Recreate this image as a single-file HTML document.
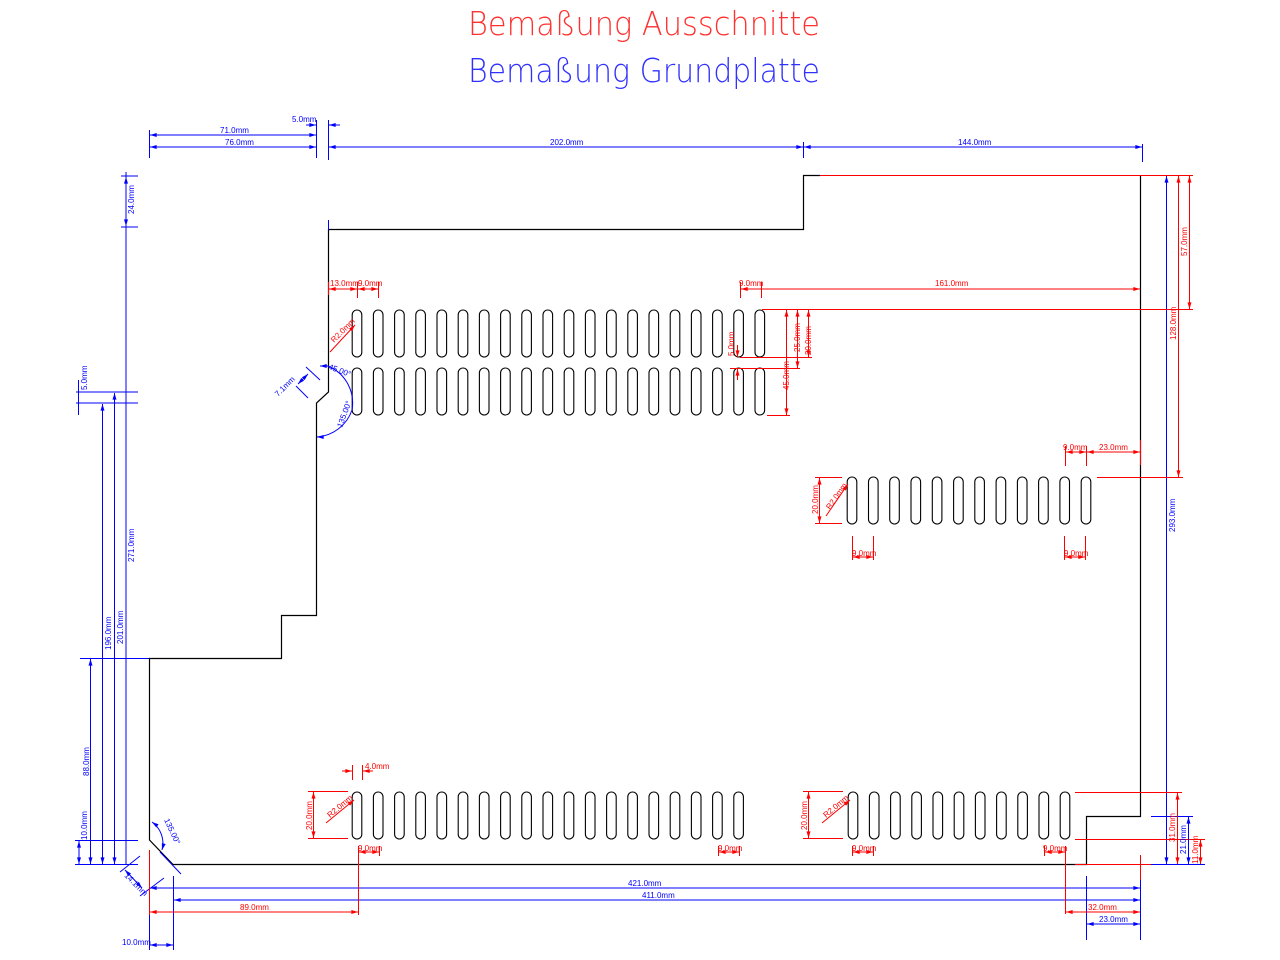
<!DOCTYPE html>
<html><head><meta charset="utf-8"><style>
html,body{margin:0;padding:0;background:#fff;}
svg{display:block;}
.t{font-family:"Liberation Sans Narrow","Liberation Sans",sans-serif;font-size:8px;}
.b{fill:#0000ff}.r{fill:#ff0000}
.lb{stroke:#0000ff;stroke-width:1;fill:none}
.lr{stroke:#ff0000;stroke-width:1;fill:none}
.ab{stroke:#0000ff;stroke-width:1;fill:none;marker-start:url(#mb);marker-end:url(#mb)}
.ar{stroke:#ff0000;stroke-width:1;fill:none;marker-start:url(#mr);marker-end:url(#mr)}
.s{fill:none;stroke:#000;stroke-width:1.1}
</style></head><body>
<svg width="1280" height="960" viewBox="0 0 1280 960" xmlns="http://www.w3.org/2000/svg">
<defs>
<marker id="mb" viewBox="0 0 10 6" refX="10" refY="3" markerWidth="7" markerHeight="4" orient="auto-start-reverse" markerUnits="userSpaceOnUse"><path d="M0,0L10,3L0,6z" fill="#0000ff"/></marker>
<marker id="mr" viewBox="0 0 10 6" refX="10" refY="3" markerWidth="7" markerHeight="4" orient="auto-start-reverse" markerUnits="userSpaceOnUse"><path d="M0,0L10,3L0,6z" fill="#ff0000"/></marker>
<rect id="sl" x="-4.8" y="0" width="9.6" height="47" rx="4.8" class="s"/>
</defs>

<!-- titles -->
<text x="468" y="35" textLength="352" lengthAdjust="spacingAndGlyphs" style="font-family:'DejaVu Sans','Liberation Sans',sans-serif;font-weight:200;font-size:33px;fill:#ff3030">Bemaßung Ausschnitte</text>
<text x="468" y="82" textLength="352" lengthAdjust="spacingAndGlyphs" style="font-family:'DejaVu Sans','Liberation Sans',sans-serif;font-weight:200;font-size:33px;fill:#3030ff">Bemaßung Grundplatte</text>

<!-- outline -->
<path d="M820,175.5 L803.5,175.5 L803.5,229.5 L328.5,229.5 L328.5,392 L316.5,403 L316.5,615.5 L281.5,615.5 L281.5,658.5 L149.5,658.5 L149.5,840 L173,864.5 L1086.5,864.5 L1086.5,816.5 L1140.5,816.5 L1140.5,175.5" fill="none" stroke="#000" stroke-width="1.2"/>
<line x1="820" y1="175.5" x2="1193" y2="175.5" class="lr"/>

<!-- slots upper rows -->
<g>
<use href="#sl" x="357" y="310"/><use href="#sl" x="378.2" y="310"/><use href="#sl" x="399.4" y="310"/><use href="#sl" x="420.6" y="310"/><use href="#sl" x="441.8" y="310"/><use href="#sl" x="463" y="310"/><use href="#sl" x="484.2" y="310"/><use href="#sl" x="505.4" y="310"/><use href="#sl" x="526.6" y="310"/><use href="#sl" x="547.8" y="310"/><use href="#sl" x="569" y="310"/><use href="#sl" x="590.2" y="310"/><use href="#sl" x="611.4" y="310"/><use href="#sl" x="632.6" y="310"/><use href="#sl" x="653.8" y="310"/><use href="#sl" x="675" y="310"/><use href="#sl" x="696.2" y="310"/><use href="#sl" x="717.4" y="310"/><use href="#sl" x="738.6" y="310"/><use href="#sl" x="759.8" y="310"/>
<use href="#sl" x="357" y="368"/><use href="#sl" x="378.2" y="368"/><use href="#sl" x="399.4" y="368"/><use href="#sl" x="420.6" y="368"/><use href="#sl" x="441.8" y="368"/><use href="#sl" x="463" y="368"/><use href="#sl" x="484.2" y="368"/><use href="#sl" x="505.4" y="368"/><use href="#sl" x="526.6" y="368"/><use href="#sl" x="547.8" y="368"/><use href="#sl" x="569" y="368"/><use href="#sl" x="590.2" y="368"/><use href="#sl" x="611.4" y="368"/><use href="#sl" x="632.6" y="368"/><use href="#sl" x="653.8" y="368"/><use href="#sl" x="675" y="368"/><use href="#sl" x="696.2" y="368"/><use href="#sl" x="717.4" y="368"/><use href="#sl" x="738.6" y="368"/><use href="#sl" x="759.8" y="368"/>
<!-- middle -->
<use href="#sl" x="852" y="477"/><use href="#sl" x="873.3" y="477"/><use href="#sl" x="894.5" y="477"/><use href="#sl" x="915.8" y="477"/><use href="#sl" x="937.1" y="477"/><use href="#sl" x="958.4" y="477"/><use href="#sl" x="979.6" y="477"/><use href="#sl" x="1000.9" y="477"/><use href="#sl" x="1022.2" y="477"/><use href="#sl" x="1043.4" y="477"/><use href="#sl" x="1064.7" y="477"/><use href="#sl" x="1086" y="477"/>
<!-- bottom left -->
<use href="#sl" x="357" y="792"/><use href="#sl" x="378.2" y="792"/><use href="#sl" x="399.4" y="792"/><use href="#sl" x="420.6" y="792"/><use href="#sl" x="441.8" y="792"/><use href="#sl" x="463" y="792"/><use href="#sl" x="484.2" y="792"/><use href="#sl" x="505.4" y="792"/><use href="#sl" x="526.6" y="792"/><use href="#sl" x="547.8" y="792"/><use href="#sl" x="569" y="792"/><use href="#sl" x="590.2" y="792"/><use href="#sl" x="611.4" y="792"/><use href="#sl" x="632.6" y="792"/><use href="#sl" x="653.8" y="792"/><use href="#sl" x="675" y="792"/><use href="#sl" x="696.2" y="792"/><use href="#sl" x="717.4" y="792"/><use href="#sl" x="738.6" y="792"/>
<!-- bottom right -->
<use href="#sl" x="853" y="792"/><use href="#sl" x="874.2" y="792"/><use href="#sl" x="895.4" y="792"/><use href="#sl" x="916.6" y="792"/><use href="#sl" x="937.8" y="792"/><use href="#sl" x="959" y="792"/><use href="#sl" x="980.2" y="792"/><use href="#sl" x="1001.4" y="792"/><use href="#sl" x="1022.6" y="792"/><use href="#sl" x="1043.8" y="792"/><use href="#sl" x="1065" y="792"/>
</g>

<!-- ===== TOP DIMENSIONS (blue) ===== -->
<line x1="149.5" y1="130" x2="149.5" y2="158" class="lb"/>
<line x1="316.5" y1="120" x2="316.5" y2="158" class="lb"/>
<line x1="328.5" y1="120" x2="328.5" y2="160" class="lb"/>
<line x1="803.5" y1="142" x2="803.5" y2="158" class="lb"/>
<line x1="1142.5" y1="144" x2="1142.5" y2="162" class="lb"/>
<line x1="328.5" y1="220" x2="328.5" y2="230" class="lb"/>
<line x1="150" y1="135" x2="316" y2="135" class="ab"/>
<text class="t b" x="220" y="133">71.0mm</text>
<line x1="150" y1="147" x2="316" y2="147" class="ab"/>
<text class="t b" x="225" y="145">76.0mm</text>
<line x1="306" y1="125" x2="316" y2="125" class="lb" style="marker-end:url(#mb)"/>
<line x1="340" y1="125" x2="329" y2="125" class="lb" style="marker-end:url(#mb)"/>
<text class="t b" x="292" y="122">5.0mm</text>
<line x1="329" y1="147" x2="803" y2="147" class="ab"/>
<text class="t b" x="550" y="145">202.0mm</text>
<line x1="804" y1="147" x2="1142" y2="147" class="ab"/>
<text class="t b" x="958" y="145">144.0mm</text>

<!-- ===== LEFT DIMENSIONS (blue) ===== -->
<line x1="121" y1="176" x2="138" y2="176" class="lb"/>
<line x1="121" y1="227" x2="138" y2="227" class="lb"/>
<line x1="126" y1="172" x2="126" y2="864" class="lb"/>
<line x1="126" y1="177" x2="126" y2="226" class="ab"/>
<text class="t b" transform="translate(134,214) rotate(-90)">24.0mm</text>
<text class="t b" transform="translate(134,562) rotate(-90)">271.0mm</text>
<line x1="76" y1="392" x2="138" y2="392" class="lb"/>
<line x1="76" y1="403" x2="138" y2="403" class="lb"/>
<line x1="78.5" y1="380" x2="78.5" y2="415" class="lb"/>
<text class="t b" transform="translate(87,390) rotate(-90)">5.0mm</text>
<line x1="114.5" y1="393" x2="114.5" y2="864" class="ab"/>
<text class="t b" transform="translate(123,644) rotate(-90)">201.0mm</text>
<line x1="102.5" y1="404" x2="102.5" y2="864" class="ab"/>
<text class="t b" transform="translate(111,650) rotate(-90)">196.0mm</text>
<line x1="80" y1="658.5" x2="149" y2="658.5" class="lb"/>
<line x1="90.5" y1="659" x2="90.5" y2="864" class="ab"/>
<text class="t b" transform="translate(89,776) rotate(-90)">88.0mm</text>
<line x1="75" y1="840.5" x2="138" y2="840.5" class="lb"/>
<line x1="75" y1="864.5" x2="138" y2="864.5" class="lb"/>
<line x1="79" y1="841" x2="79" y2="864" class="ab"/>
<text class="t b" transform="translate(87,840) rotate(-90)">10.0mm</text>
<!-- chamfer dims -->
<line x1="125" y1="870" x2="142" y2="888" class="ab"/>
<line x1="140" y1="856" x2="120" y2="872" class="lb"/>
<line x1="164" y1="878" x2="140" y2="896" class="lb"/>
<text class="t b" transform="translate(124,876) rotate(45)">14.1mm</text>
<path d="M152,822 A26,26 0 0 1 162,850" class="lb" style="marker-start:url(#mb);marker-end:url(#mb)"/>
<text class="t b" transform="translate(164,820) rotate(65)">135.00°</text>
<line x1="181" y1="874" x2="160" y2="852" class="lb"/>

<!-- ===== BOTTOM DIMENSIONS ===== -->
<line x1="149.5" y1="850" x2="149.5" y2="915" class="lr"/>
<line x1="149.5" y1="915" x2="149.5" y2="950" class="lb"/>
<line x1="173.5" y1="876" x2="173.5" y2="950" class="lb"/>
<line x1="150" y1="888" x2="1140" y2="888" class="ab"/>
<text class="t b" x="628" y="886">421.0mm</text>
<line x1="174" y1="900" x2="1140" y2="900" class="ab"/>
<text class="t b" x="642" y="898">411.0mm</text>
<line x1="358.5" y1="852" x2="358.5" y2="915" class="lr"/>
<line x1="150" y1="912" x2="358" y2="912" class="ar"/>
<text class="t r" x="240" y="910">89.0mm</text>
<line x1="150" y1="945" x2="173" y2="945" class="ab"/>
<text class="t b" x="122" y="945">10.0mm</text>
<line x1="1140.5" y1="855" x2="1140.5" y2="940" class="lb"/>
<line x1="1140.5" y1="855" x2="1140.5" y2="880" class="lr"/>
<line x1="1086.5" y1="876" x2="1086.5" y2="940" class="lb"/>
<line x1="1065.5" y1="850" x2="1065.5" y2="914" class="lr"/>
<line x1="1066" y1="912" x2="1140" y2="912" class="ar"/>
<text class="t r" x="1088" y="910">32.0mm</text>
<line x1="1087" y1="924" x2="1140" y2="924" class="ab"/>
<text class="t b" x="1099" y="922">23.0mm</text>

<!-- ===== RIGHT DIMENSIONS ===== -->
<line x1="1166.5" y1="176" x2="1166.5" y2="864" class="ab"/>
<text class="t b" transform="translate(1175,532) rotate(-90)">293.0mm</text>
<line x1="1178.5" y1="176" x2="1178.5" y2="477" class="ar"/>
<text class="t r" transform="translate(1176,340) rotate(-90)">128.0mm</text>
<line x1="762" y1="309.5" x2="1193" y2="309.5" class="lr"/>
<line x1="1189.5" y1="176" x2="1189.5" y2="309" class="ar"/>
<text class="t r" transform="translate(1187,256) rotate(-90)">57.0mm</text>
<line x1="1097" y1="477.5" x2="1183" y2="477.5" class="lr"/>
<line x1="1075" y1="792.5" x2="1182" y2="792.5" class="lr"/>
<line x1="1075" y1="839.5" x2="1205" y2="839.5" class="lr"/>
<line x1="1075" y1="864.5" x2="1205" y2="864.5" class="lr"/>
<line x1="1151" y1="864.5" x2="1205" y2="864.5" class="lb"/>
<line x1="1151" y1="816.5" x2="1193" y2="816.5" class="lb"/>
<line x1="1177.5" y1="793" x2="1177.5" y2="864" class="ar"/>
<text class="t r" transform="translate(1175,842) rotate(-90)">31.0mm</text>
<line x1="1188.5" y1="817" x2="1188.5" y2="864" class="ab"/>
<text class="t b" transform="translate(1186,854) rotate(-90)">21.0mm</text>
<line x1="1200.5" y1="840" x2="1200.5" y2="864" class="ar"/>
<text class="t r" transform="translate(1198,864) rotate(-90)">11.0mm</text>

<!-- ===== UPPER SLOT DIMS (red) ===== -->
<line x1="328.5" y1="282" x2="328.5" y2="295" class="lr"/>
<line x1="357.5" y1="282" x2="357.5" y2="298" class="lr"/>
<line x1="378.5" y1="282" x2="378.5" y2="298" class="lr"/>
<line x1="329" y1="289" x2="357" y2="289" class="ar"/>
<line x1="358" y1="289" x2="378" y2="289" class="ar"/>
<text class="t r" x="330" y="286">13.0mm</text>
<text class="t r" x="358" y="286">9.0mm</text>
<line x1="330" y1="352" x2="355" y2="325" class="lr" style="marker-end:url(#mr)"/>
<text class="t r" transform="translate(334,343) rotate(-45)">R2.0mm</text>
<line x1="740.5" y1="282" x2="740.5" y2="298" class="lr"/>
<line x1="761.5" y1="282" x2="761.5" y2="298" class="lr"/>
<line x1="741" y1="289" x2="1140" y2="289" class="ar"/>
<text class="t r" x="739" y="286">9.0mm</text>
<text class="t r" x="935" y="286">161.0mm</text>
<line x1="767" y1="309.5" x2="812" y2="309.5" class="lr"/>
<line x1="740" y1="357.5" x2="812" y2="357.5" class="lr"/>
<line x1="730" y1="368.5" x2="800" y2="368.5" class="lr"/>
<line x1="767" y1="415.5" x2="790" y2="415.5" class="lr"/>
<line x1="808.5" y1="310" x2="808.5" y2="357" class="ar"/>
<text class="t r" transform="translate(811,355) rotate(-90)">20.0mm</text>
<line x1="797.5" y1="310" x2="797.5" y2="368" class="ar"/>
<text class="t r" transform="translate(800,352) rotate(-90)">25.0mm</text>
<line x1="786.5" y1="310" x2="786.5" y2="415" class="ar"/>
<text class="t r" transform="translate(789,390) rotate(-90)">45.0mm</text>
<line x1="737.5" y1="345" x2="737.5" y2="357" class="lr" style="marker-end:url(#mr)"/>
<line x1="737.5" y1="380" x2="737.5" y2="369" class="lr" style="marker-end:url(#mr)"/>
<text class="t r" transform="translate(734,356) rotate(-90)">5.0mm</text>

<!-- notch dims (blue) -->
<path d="M328,366 A40,40 0 0 1 352,410 A40,40 0 0 1 317,437" class="lb"/>
<line x1="328" y1="366" x2="320" y2="366" class="lb" style="marker-end:url(#mb)"/>
<line x1="323" y1="437" x2="317" y2="437" class="lb" style="marker-end:url(#mb)"/>
<text class="t b" transform="translate(328,369) rotate(20)">45.00°</text>
<text class="t b" transform="translate(342,428) rotate(-70)">135.00°</text>
<line x1="298" y1="384" x2="308" y2="374" class="ab"/>
<line x1="306" y1="367" x2="320" y2="380" class="lb"/>
<line x1="296" y1="386" x2="308" y2="398" class="lb"/>
<text class="t b" transform="translate(278,397) rotate(-45)">7.1mm</text>

<!-- ===== MIDDLE GROUP DIMS ===== -->
<line x1="1065.5" y1="446" x2="1065.5" y2="466" class="lr"/>
<line x1="1086.5" y1="446" x2="1086.5" y2="466" class="lr"/>
<line x1="1140.5" y1="440" x2="1140.5" y2="465" class="lr"/>
<line x1="1066" y1="452" x2="1086" y2="452" class="ar"/>
<line x1="1087" y1="452" x2="1140" y2="452" class="ar"/>
<text class="t r" x="1063" y="450">9.0mm</text>
<text class="t r" x="1099" y="450">23.0mm</text>
<line x1="815" y1="477.5" x2="842" y2="477.5" class="lr"/>
<line x1="815" y1="523.5" x2="842" y2="523.5" class="lr"/>
<line x1="819.5" y1="478" x2="819.5" y2="523" class="ar"/>
<text class="t r" transform="translate(818,514) rotate(-90)">20.0mm</text>
<line x1="826" y1="516" x2="848" y2="484" class="lr" style="marker-end:url(#mr)"/>
<text class="t r" transform="translate(830,510) rotate(-55)">R2.0mm</text>
<line x1="852.5" y1="536" x2="852.5" y2="560" class="lr"/>
<line x1="873.5" y1="536" x2="873.5" y2="560" class="lr"/>
<line x1="853" y1="557" x2="873" y2="557" class="ar"/>
<text class="t r" x="852" y="556">9.0mm</text>
<line x1="1064.5" y1="536" x2="1064.5" y2="560" class="lr"/>
<line x1="1085.5" y1="536" x2="1085.5" y2="560" class="lr"/>
<line x1="1065" y1="557" x2="1085" y2="557" class="ar"/>
<text class="t r" x="1064" y="556">9.0mm</text>

<!-- ===== BOTTOM SLOT DIMS ===== -->
<line x1="352.5" y1="765" x2="352.5" y2="780" class="lr"/>
<line x1="362.5" y1="765" x2="362.5" y2="780" class="lr"/>
<line x1="342" y1="771" x2="352" y2="771" class="lr" style="marker-end:url(#mr)"/>
<line x1="373" y1="771" x2="363" y2="771" class="lr" style="marker-end:url(#mr)"/>
<text class="t r" x="365" y="769">4.0mm</text>
<line x1="308" y1="791.5" x2="348" y2="791.5" class="lr"/>
<line x1="308" y1="838.5" x2="348" y2="838.5" class="lr"/>
<line x1="313.5" y1="792" x2="313.5" y2="838" class="ar"/>
<text class="t r" transform="translate(312,830) rotate(-90)">20.0mm</text>
<line x1="326" y1="823" x2="354" y2="800" class="lr" style="marker-end:url(#mr)"/>
<text class="t r" transform="translate(330,818) rotate(-40)">R2.0mm</text>
<line x1="358.5" y1="846" x2="358.5" y2="856" class="lr"/>
<line x1="379.5" y1="846" x2="379.5" y2="856" class="lr"/>
<line x1="359" y1="852" x2="379" y2="852" class="ar"/>
<text class="t r" x="358" y="851">9.0mm</text>
<line x1="718.5" y1="846" x2="718.5" y2="856" class="lr"/>
<line x1="739.5" y1="846" x2="739.5" y2="856" class="lr"/>
<line x1="719" y1="852" x2="739" y2="852" class="ar"/>
<text class="t r" x="718" y="851">9.0mm</text>
<line x1="803" y1="791.5" x2="843" y2="791.5" class="lr"/>
<line x1="803" y1="838.5" x2="843" y2="838.5" class="lr"/>
<line x1="808.5" y1="792" x2="808.5" y2="838" class="ar"/>
<text class="t r" transform="translate(807,830) rotate(-90)">20.0mm</text>
<line x1="822" y1="823" x2="850" y2="800" class="lr" style="marker-end:url(#mr)"/>
<text class="t r" transform="translate(826,818) rotate(-40)">R2.0mm</text>
<line x1="852.5" y1="846" x2="852.5" y2="856" class="lr"/>
<line x1="873.5" y1="846" x2="873.5" y2="856" class="lr"/>
<line x1="853" y1="852" x2="873" y2="852" class="ar"/>
<text class="t r" x="852" y="851">9.0mm</text>
<line x1="1044.5" y1="846" x2="1044.5" y2="856" class="lr"/>
<line x1="1065.5" y1="846" x2="1065.5" y2="856" class="lr"/>
<line x1="1045" y1="852" x2="1065" y2="852" class="ar"/>
<text class="t r" x="1043" y="851">9.0mm</text>
</svg>
</body></html>
